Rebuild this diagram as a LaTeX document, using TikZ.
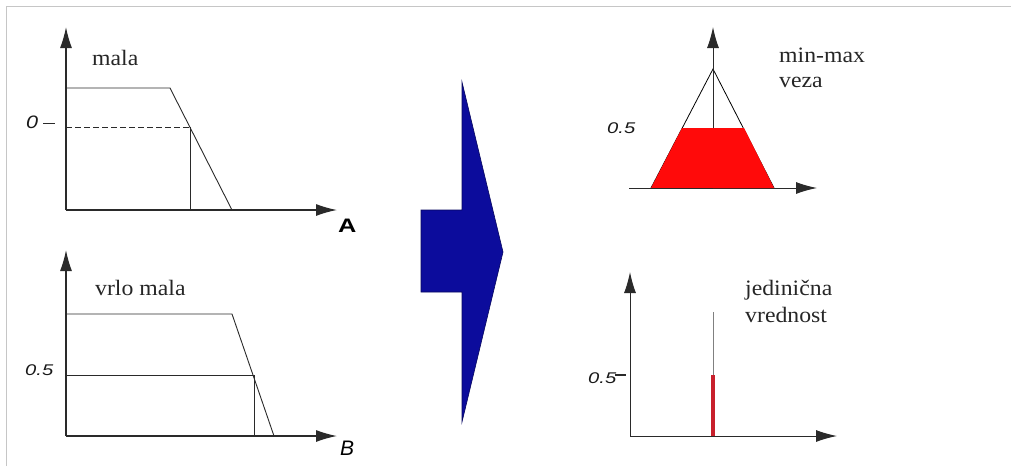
\documentclass[tikz,border=0pt]{standalone}
\usepackage{fontspec}
\setmainfont{Liberation Serif}
\newfontfamily\arialf{Liberation Sans}
\usetikzlibrary{arrows.meta}
\definecolor{axisc}{HTML}{2A2A2A}
\definecolor{bluec}{HTML}{0C0C9C}
\definecolor{redc}{HTML}{FF0A0A}
\definecolor{darkred}{HTML}{C8202C}
\newcommand{\widetext}[2]{\scalebox{#1}[1]{#2}}
\tikzset{
  ax/.style={draw=axisc, line width=1.3pt, -{Latex[length=21pt,width=12pt]}},
  curve/.style={draw=axisc, line width=0.9pt},
  serlab/.style={font=\fontsize{22}{24}\selectfont, anchor=base west, inner sep=0pt, text=black!85},
  numlab/.style={font=\arialf\itshape\fontsize{15.5}{17}\selectfont, anchor=base west, inner sep=0pt, text=black!90},
}
\begin{document}
\begin{tikzpicture}[x=1pt,y=-1pt]
\useasboundingbox (0,0) rectangle (1011,466);
% frame
\draw[gray!45, line width=1.5pt] (6.5,466) -- (6.5,6.5) -- (1011,6.5);

% ---------- top-left graph ----------
\coordinate (o1) at (66,210);
\coordinate (y1) at (66,27);
\coordinate (x1) at (337,210);
\draw[ax] (o1) -- (y1);
\draw[ax] (o1) -- (x1);
\coordinate (t1a) at (66,88);
\coordinate (t1b) at (170,88);
\coordinate (t1c) at (232,210);
\draw[curve] (t1a) -- (t1b) -- (t1c);
\coordinate (d1a) at (66,127);
\coordinate (d1b) at (190,127);
\coordinate (d1c) at (190,210);
\draw[curve, dash pattern=on 6pt off 3pt] (d1a) -- (d1b);
\draw[curve] (d1b) -- (d1c);
\node[serlab] (mala) at (92,65) {\widetext{1.08}{mala}};
\node[numlab, font=\arialf\itshape\fontsize{18}{20}\selectfont] (zero) at (26,128) {\widetext{1.2}{0}};
\draw[axisc, line width=1pt] (43,123) -- (55,123);
\node[font=\arialf\bfseries\fontsize{19.5}{22}\selectfont, anchor=base west, inner sep=0pt] (A) at (338,232) {\widetext{1.3}{A}};

% ---------- bottom-left graph ----------
\coordinate (o2) at (66,436);
\coordinate (y2) at (66,250);
\coordinate (x2) at (337,436);
\draw[ax] (o2) -- (y2);
\draw[ax] (o2) -- (x2);
\coordinate (t2a) at (66,314);
\coordinate (t2b) at (232,314);
\coordinate (t2c) at (274,436);
\draw[curve] (t2a) -- (t2b) -- (t2c);
\coordinate (h2a) at (66,375);
\coordinate (h2b) at (254,375);
\coordinate (h2c) at (254,436);
\draw[curve] (h2a) -- (h2b) -- (h2c);
\node[serlab] (vrlo) at (95,295) {\widetext{1.08}{vrlo mala}};
\node[numlab] (half2) at (25,375) {\widetext{1.3}{0.5}};
\node[font=\arialf\itshape\fontsize{21}{24}\selectfont, anchor=base west, inner sep=0pt] (B) at (340,455) {B};

% ---------- blue arrow ----------
\filldraw[fill=bluec, draw=bluec!60!black, line width=0.6pt]
  (421,210) -- (462,210) -- (462,82) -- (503,252) -- (462,422) -- (462,292) -- (421,292) -- cycle;

% ---------- top-right graph ----------
\coordinate (o3) at (713,188);
\coordinate (y3) at (713,27);
\coordinate (x3s) at (629,188);
\coordinate (x3) at (817,188);
\draw[black, line width=0.8pt] (651,188) -- (713,69) -- (774,188);
\draw[ax, line width=1pt] (o3) -- (y3);
\draw[ax, line width=1pt] (x3s) -- (x3);
\fill[redc] (651,188) -- (682,128) -- (744,128) -- (774,188) -- cycle;
\draw[axisc, line width=1pt] (x3s) -- (o3);
\node[serlab] (minmax) at (779,62) {\widetext{1.08}{min-max}};
\node[serlab] (veza) at (779,87) {\widetext{1.08}{veza}};
\node[numlab] (half3) at (607,133) {\widetext{1.3}{0.5}};

% ---------- bottom-right graph ----------
\coordinate (o4) at (630,436);
\coordinate (y4) at (630,272);
\coordinate (x4) at (837,436);
\draw[ax, line width=1pt] (o4) -- (y4);
\draw[ax, line width=1pt] (o4) -- (x4);
\draw[gray, line width=0.7pt] (713,312) -- (713,436);
\draw[darkred, line width=4pt] (713,375) -- (713,436);
\node[serlab] (jed) at (745,295) {\widetext{1.08}{jedinična}};
\node[serlab] (vred) at (745,322) {\widetext{1.08}{vrednost}};
\node[numlab] (half4) at (588,383) {\widetext{1.3}{0.5}};
\draw[axisc, line width=2pt] (615,375) -- (626,375);
\end{tikzpicture}
\end{document}
